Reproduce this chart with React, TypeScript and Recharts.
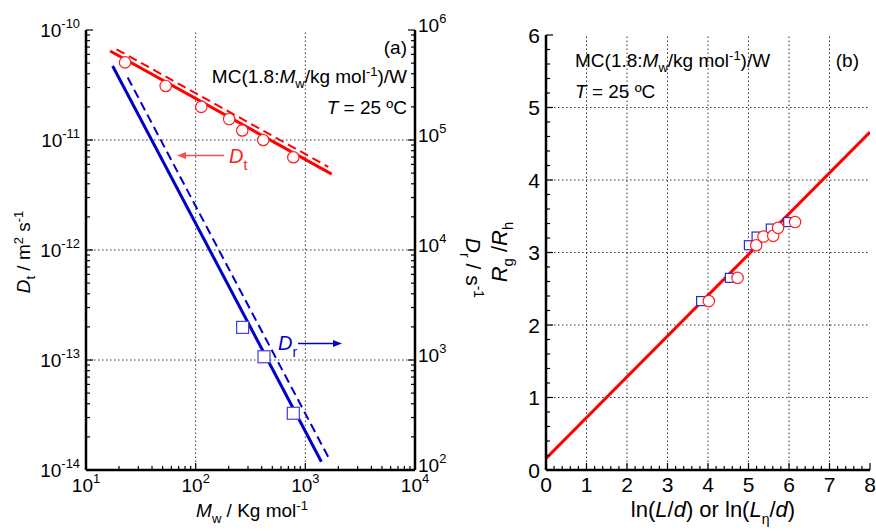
import React from 'react';
import { ComposedChart, Line, Scatter, XAxis, YAxis, ReferenceLine, ReferenceArea } from 'recharts';

const FONT = '"Liberation Sans", Arial, Helvetica, sans-serif';
const RED = '#ff0000';
const BLUE = '#0000cc';

// ---- panel (a): Dt and Dr against Mw ----
const mwDt = [22.7, 53.3, 112.5, 202, 266, 413, 777];
const dtVals = [5.08e-11, 3.1e-11, 2.0e-11, 1.55e-11, 1.22e-11, 1.0e-11, 6.97e-12];
const mwDr = [268, 420, 777];
const drVals = [1980, 1070, 328];

const dtSolidX = [16.6, 1740];
const dtSolidY = [6.44e-11, 4.9e-12];
const dtDashX = [19, 1620];
const dtDashY = [6.68e-11, 5.7e-12];
const drSolidX = [17.5, 1400];
const drSolidY = [4.7e5, 119];
const drDashX = [24, 1675];
const drDashY = [3.7e5, 123];

const mwTicks = [10, 100, 1000, 10000];
const dtTicks = [1e-14, 1e-13, 1e-12, 1e-11, 1e-10];
const drTicks = [1e2, 1e3, 1e4, 1e5, 1e6];

// white box behind the legend text (hides the grid, not the data)
const boxA = { x1: 124, x2: 8000, y1: 1.16e-11, y2: 4.6e-11 };

// ---- panel (b): Rg/Rh against ln(L/d) ----
const lnLd = [3.83, 4.54, 5.01, 5.2, 5.55, 5.98];
const ratioL = [2.33, 2.65, 3.1, 3.22, 3.33, 3.42];
const lnLeta = [4.02, 4.73, 5.19, 5.37, 5.61, 5.73, 6.15];
const ratioLeta = [2.33, 2.65, 3.1, 3.22, 3.23, 3.34, 3.42];
const fitX = [0, 8];
const fitY = [0.16, 4.66];
const bXTicks = [0, 1, 2, 3, 4, 5, 6, 7, 8];
const bYTicks = [0, 1, 2, 3, 4, 5, 6];
const boxB = { x1: 0.25, x2: 5.85, y1: 5.03, y2: 5.88 };

const pts = (xs: number[], ys: number[]) => xs.map((x, i) => ({ x, y: ys[i] }));

// minor ticks: 2..9 inside every decade for log axes, fifths for linear axes
const logMinor = (majors: number[]) => {
  const out: number[] = [];
  majors.slice(0, -1).forEach(m => { for (let k = 2; k <= 9; k++) out.push(m * k); });
  return [...majors, ...out];
};
const linMinor = (majors: number[]) => {
  const out: number[] = [];
  for (let i = 0; i <= (majors[majors.length - 1] - majors[0]) * 5; i++) out.push(majors[0] + i / 5);
  return out;
};

const isMajor = (majors: number[], v: number) =>
  majors.some(m => (m === 0 ? Math.abs(v) < 1e-9 : Math.abs(m - v) <= Math.abs(m) * 1e-6));

const TM = 4;

const Pow = ({ v, x, y, anchor, size }: any) => {
  const e = Math.round(Math.log10(v));
  return (
    <text x={x} y={y} textAnchor={anchor} fontSize={size} fontFamily={FONT} fill="#000">
      <tspan>10</tspan>
      <tspan dy={-size * 0.45} fontSize={size * 0.68}>{e}</tspan>
    </text>
  );
};

const Num = ({ v, x, y, anchor, size }: any) => (
  <text x={x} y={y} textAnchor={anchor} fontSize={size} fontFamily={FONT} fill="#000">{v}</text>
);

function makeTick(side: string, majors: number[], Label: any, size: number, showLabel: boolean) {
  return (p: any) => {
    const v = p.payload.value;
    const major = isMajor(majors, v);
    const len = major ? 7 : 4;
    const st = { stroke: '#000', strokeWidth: 1.2 };
    let line = null;
    let lab = null;
    if (side === 'bottom') {
      const e = p.y - TM;
      line = <line x1={p.x} x2={p.x} y1={e} y2={e - len} {...st} />;
      if (major && showLabel) lab = <Label v={v} x={p.x} y={e + 22} anchor="middle" size={size} />;
    } else if (side === 'top') {
      const e = p.y + TM;
      line = <line x1={p.x} x2={p.x} y1={e} y2={e + len} {...st} />;
    } else if (side === 'left') {
      const e = p.x + TM;
      line = <line x1={e} x2={e + len} y1={p.y} y2={p.y} {...st} />;
      if (major && showLabel) lab = <Label v={v} x={e - 6} y={p.y + size * 0.36} anchor="end" size={size} />;
    } else {
      const e = p.x - TM;
      line = <line x1={e} x2={e - len} y1={p.y} y2={p.y} {...st} />;
      if (major && showLabel) lab = <Label v={v} x={e + 3} y={p.y + 2} anchor="start" size={size} />;
    }
    return <g>{line}{lab}</g>;
  };
}

const circle = (p: any) => (
  <circle cx={p.cx} cy={p.cy} r={5.7} fill="#fff" stroke="#ff2020" strokeWidth={1.2} />
);
const squareA = (p: any) => (
  <rect x={p.cx - 6} y={p.cy - 6} width={12} height={12} fill="#fff" stroke="#4040dd" strokeWidth={1.2} />
);
const squareB = (p: any) => (
  <rect x={p.cx - 4.5} y={p.cy - 4.5} width={9} height={9} fill="#fff" stroke="#2a2acc" strokeWidth={1.2} />
);

const axisLine = { stroke: '#000', strokeWidth: 2.5 };
const grid = { stroke: '#333', strokeDasharray: '1.5 2.5', strokeWidth: 1 };

function PanelA() {
  const xt = logMinor(mwTicks);
  return (
    <ComposedChart width={480} height={531} margin={{ top: 30, right: 5, bottom: 21, left: 26 }}>
      <XAxis xAxisId="b" type="number" dataKey="x" scale="log" domain={[10, 10000]} allowDataOverflow
        ticks={xt} interval={0} tickLine={false} tickSize={0} tickMargin={TM} height={40}
        axisLine={axisLine} tick={makeTick('bottom', mwTicks, Pow, 19, true)} />
      <XAxis xAxisId="t" orientation="top" type="number" dataKey="x" scale="log" domain={[10, 10000]} allowDataOverflow
        ticks={xt} interval={0} tickLine={false} tickSize={0} tickMargin={TM} height={0}
        axisLine={axisLine} tick={makeTick('top', mwTicks, Pow, 19, false)} />
      <YAxis yAxisId="l" type="number" dataKey="y" scale="log" domain={[1e-14, 1e-10]} allowDataOverflow
        ticks={logMinor(dtTicks)} interval={0} tickLine={false} tickSize={0} tickMargin={TM} width={60}
        axisLine={axisLine} tick={makeTick('left', dtTicks, Pow, 19, true)} />
      <YAxis yAxisId="r" orientation="right" type="number" dataKey="y" scale="log" domain={[1e2, 1e6]} allowDataOverflow
        ticks={logMinor(drTicks)} interval={0} tickLine={false} tickSize={0} tickMargin={TM} width={60}
        axisLine={axisLine} tick={makeTick('right', drTicks, Pow, 19, true)} />

      {mwTicks.slice(1, -1).map(v => (
        <ReferenceLine key={'gx' + v} xAxisId="b" yAxisId="l" x={v} {...grid} />
      ))}
      {dtTicks.slice(1, -1).map(v => (
        <ReferenceLine key={'gy' + v} xAxisId="b" yAxisId="l" y={v} {...grid} />
      ))}
      <ReferenceArea xAxisId="b" yAxisId="l" {...boxA} fill="#fff" fillOpacity={1} stroke="none" />

      <Line data={pts(dtDashX, dtDashY)} xAxisId="b" yAxisId="l" dataKey="y" stroke={RED} strokeWidth={2}
        strokeDasharray="9 5" dot={false} isAnimationActive={false} />
      <Line data={pts(dtSolidX, dtSolidY)} xAxisId="b" yAxisId="l" dataKey="y" stroke={RED} strokeWidth={3}
        dot={false} isAnimationActive={false} />
      <Line data={pts(drDashX, drDashY)} xAxisId="b" yAxisId="r" dataKey="y" stroke={BLUE} strokeWidth={2}
        strokeDasharray="9 5" dot={false} isAnimationActive={false} />
      <Line data={pts(drSolidX, drSolidY)} xAxisId="b" yAxisId="r" dataKey="y" stroke={BLUE} strokeWidth={3}
        dot={false} isAnimationActive={false} />
      <Scatter data={pts(mwDt, dtVals)} xAxisId="b" yAxisId="l" shape={circle} isAnimationActive={false} />
      <Scatter data={pts(mwDr, drVals)} xAxisId="b" yAxisId="r" shape={squareA} isAnimationActive={false} />
    </ComposedChart>
  );
}

function PanelB() {
  return (
    <ComposedChart width={396} height={531} margin={{ top: 35, right: 6, bottom: 21, left: 26 }}>
      <XAxis xAxisId="b" type="number" dataKey="x" domain={[0, 8]} allowDataOverflow
        ticks={linMinor(bXTicks)} interval={0} tickLine={false} tickSize={0} tickMargin={TM} height={40}
        axisLine={axisLine} tick={makeTick('bottom', bXTicks, Num, 21, true)} />
      <XAxis xAxisId="t" orientation="top" type="number" dataKey="x" domain={[0, 8]} allowDataOverflow
        ticks={linMinor(bXTicks)} interval={0} tickLine={false} tickSize={0} tickMargin={TM} height={0}
        axisLine={axisLine} tick={makeTick('top', bXTicks, Num, 21, false)} />
      <YAxis yAxisId="l" type="number" dataKey="y" domain={[0, 6]} allowDataOverflow
        ticks={linMinor(bYTicks)} interval={0} tickLine={false} tickSize={0} tickMargin={TM} width={40}
        axisLine={axisLine} tick={makeTick('left', bYTicks, Num, 21, true)} />
      <YAxis yAxisId="r" orientation="right" type="number" dataKey="y" domain={[0, 6]} allowDataOverflow
        ticks={linMinor(bYTicks)} interval={0} tickLine={false} tickSize={0} tickMargin={TM} width={0}
        axisLine={axisLine} tick={makeTick('right', bYTicks, Num, 21, false)} />

      {bXTicks.slice(1, -1).map(v => (
        <ReferenceLine key={'gx' + v} xAxisId="b" yAxisId="l" x={v} {...grid} />
      ))}
      {bYTicks.slice(1, -1).map(v => (
        <ReferenceLine key={'gy' + v} xAxisId="b" yAxisId="l" y={v} {...grid} />
      ))}
      <ReferenceArea xAxisId="b" yAxisId="l" {...boxB} fill="#fff" fillOpacity={1} stroke="none" />

      <Line data={pts(fitX, fitY)} xAxisId="b" yAxisId="l" dataKey="y" stroke={RED} strokeWidth={3}
        dot={false} isAnimationActive={false} />
      <Scatter data={pts(lnLd, ratioL)} xAxisId="b" yAxisId="l" shape={squareB} isAnimationActive={false} />
      <Scatter data={pts(lnLeta, ratioLeta)} xAxisId="b" yAxisId="l" shape={circle} isAnimationActive={false} />
    </ComposedChart>
  );
}

function Annotations() {
  const it = { fontStyle: 'italic' as const };
  return (
    <svg width={876} height={531} style={{ position: 'absolute', left: 0, top: 0, pointerEvents: 'none' }}
      fontFamily={FONT} fill="#000">
      {/* panel (a) */}
      <text x={407} y={54} textAnchor="end" fontSize={19}>(a)</text>
      <text x={407} y={83} textAnchor="end" fontSize={19}>
        MC(1.8:<tspan {...it}>M</tspan><tspan dy={5} fontSize={13}>w</tspan>
        <tspan dy={-5}>/kg mol</tspan><tspan dy={-7} fontSize={13}>-1</tspan><tspan dy={7}>)/W</tspan>
      </text>
      <text x={407} y={114} textAnchor="end" fontSize={19}>
        <tspan {...it}>T</tspan><tspan> = 25 ºC</tspan>
      </text>
      <text x={229} y={163} fontSize={20} fill="#ff2020">
        <tspan {...it}>D</tspan><tspan dy={7} fontSize={14}>t</tspan>
      </text>
      <line x1={224} x2={184} y1={155.5} y2={155.5} stroke="#ff4d4d" strokeWidth={1.5} />
      <polygon points="177,155.5 186,152 186,159" fill="#ff4d4d" />
      <text x={278} y={350} fontSize={20} fill={BLUE}>
        <tspan {...it}>D</tspan><tspan dy={7} fontSize={14}>r</tspan>
      </text>
      <line x1={298} x2={334} y1={343.5} y2={343.5} stroke={BLUE} strokeWidth={1.5} />
      <polygon points="342,343.5 333,340 333,347" fill={BLUE} />

      <text transform="translate(30,252) rotate(-90)" textAnchor="middle" fontSize={19}>
        <tspan {...it}>D</tspan><tspan dy={5} fontSize={13}>t</tspan><tspan dy={-5}> / m</tspan>
        <tspan dy={-7} fontSize={13}>2</tspan><tspan dy={7}> s</tspan><tspan dy={-7} fontSize={13}>-1</tspan>
      </text>
      <text transform="translate(466,268) rotate(90)" textAnchor="middle" fontSize={21}>
        <tspan {...it}>D</tspan><tspan dy={6} fontSize={14}>r</tspan><tspan dy={-6}> / s</tspan>
        <tspan dy={-8} fontSize={14}>-1</tspan>
      </text>
      <text x={252} y={517} textAnchor="middle" fontSize={19}>
        <tspan {...it}>M</tspan><tspan dy={6} fontSize={13}>w</tspan><tspan dy={-6}> / Kg mol</tspan>
        <tspan dy={-7} fontSize={13}>-1</tspan>
      </text>

      {/* panel (b) */}
      <text x={575} y={67} fontSize={19}>
        MC(1.8:<tspan {...it}>M</tspan><tspan dy={5} fontSize={13}>w</tspan>
        <tspan dy={-5}>/kg mol</tspan><tspan dy={-7} fontSize={13}>-1</tspan><tspan dy={7}>)/W</tspan>
      </text>
      <text x={575} y={98} fontSize={19}>
        <tspan {...it}>T</tspan><tspan> = 25 ºC</tspan>
      </text>
      <text x={859} y={67} textAnchor="end" fontSize={19}>(b)</text>
      <text transform="translate(507,252) rotate(-90)" textAnchor="middle" fontSize={22}>
        <tspan {...it}>R</tspan><tspan dy={6} fontSize={15}>g</tspan><tspan dy={-6}> /</tspan>
        <tspan {...it}>R</tspan><tspan dy={6} fontSize={15}>h</tspan>
      </text>
      <text x={713} y={517} textAnchor="middle" fontSize={22}>
        ln(<tspan {...it}>L</tspan>/<tspan {...it}>d</tspan>) or ln(<tspan {...it}>L</tspan>
        <tspan dy={7} fontSize={14}>η</tspan><tspan dy={-7}>/</tspan><tspan {...it}>d</tspan>)
      </text>
    </svg>
  );
}

export default function App() {
  return (
    <div style={{ position: 'absolute', left: 0, top: 0, width: 876, height: 531, background: '#fff', fontFamily: FONT }}>
      <div style={{ position: 'absolute', left: 0, top: 0 }}>
        <PanelA />
      </div>
      <div style={{ position: 'absolute', left: 480, top: 0 }}>
        <PanelB />
      </div>
      <Annotations />
    </div>
  );
}
